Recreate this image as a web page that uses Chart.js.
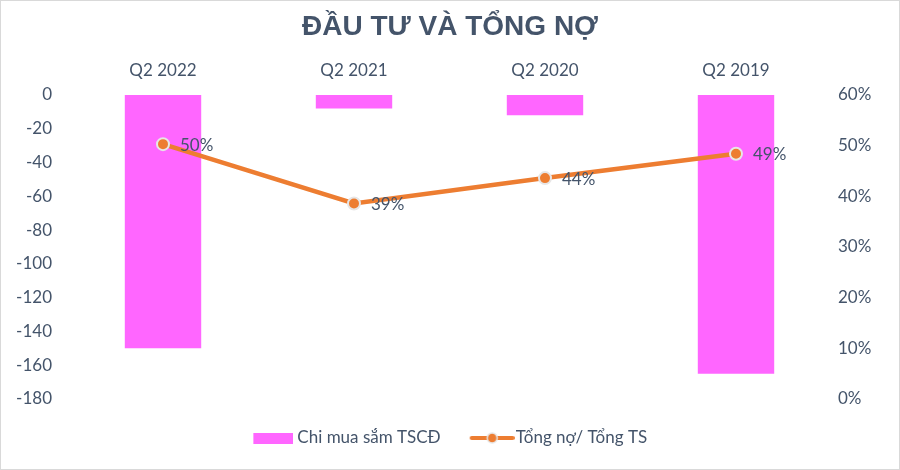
<!DOCTYPE html>
<html>
<head>
<meta charset="utf-8">
<script src="https://cdn.jsdelivr.net/npm/chart.js@4"></script>
<style>
  html, body { margin: 0; padding: 0; background: #fff; }
  #wrap { width: 900px; height: 470px; position: relative; }
</style>
</head>
<body>
<div id="wrap"><canvas id="c" width="900" height="470"></canvas></div>
<script>
const categories = ['Q2 2022', 'Q2 2021', 'Q2 2020', 'Q2 2019'];
const capexValues = [-150, -8, -12, -165];
const debtRatioValues = [50.3, 38.6, 43.6, 48.4];
const debtRatioLabels = ['50%', '39%', '44%', '49%'];
const leftTicks = [0, -20, -40, -60, -80, -100, -120, -140, -160, -180];
const rightTicks = [0, 10, 20, 30, 40, 50, 60];
const seriesNames = ['Chi mua sắm TSCĐ', 'Tổng nợ/ Tổng TS'];
const titleText = 'ĐẦU TƯ VÀ TỔNG NỢ';

const TEXT = '#44546A';
const BAR = '#FF66FF';
const LINE = '#ED7D31';
const FONT = 'Lato, "Open Sans", sans-serif';

function makeBarIcon() {
  const c = document.createElement('canvas');
  c.width = 45; c.height = 11;
  const x = c.getContext('2d');
  x.fillStyle = BAR; x.fillRect(5, 0, 40, 11);
  return c;
}
function makeLineIcon() {
  const c = document.createElement('canvas');
  c.width = 51; c.height = 14;
  const x = c.getContext('2d');
  x.strokeStyle = LINE; x.lineWidth = 4; x.lineCap = 'round';
  x.beginPath(); x.moveTo(8, 7); x.lineTo(49, 7); x.stroke();
  x.beginPath(); x.arc(28.5, 7, 5, 0, Math.PI * 2);
  x.fillStyle = LINE; x.fill();
  x.lineWidth = 1.5; x.strokeStyle = '#E7E6E6'; x.stroke();
  return c;
}
const barIcon = makeBarIcon();
const lineIcon = makeLineIcon();

const borderPlugin = {
  id: 'frame',
  beforeDraw(chart) {
    const ctx = chart.ctx;
    ctx.save();
    ctx.fillStyle = '#fff';
    ctx.fillRect(0, 0, chart.width, chart.height);
    ctx.strokeStyle = '#D9D9D9';
    ctx.lineWidth = 1;
    ctx.strokeRect(0.5, 0.5, chart.width - 1, chart.height - 1);
    ctx.restore();
  }
};

const labelPlugin = {
  id: 'pointLabels',
  afterDatasetsDraw(chart) {
    const meta = chart.getDatasetMeta(0);
    const ctx = chart.ctx;
    ctx.save();
    ctx.font = '17px ' + FONT;
    ctx.fillStyle = TEXT;
    ctx.textAlign = 'left';
    ctx.textBaseline = 'middle';
    meta.data.forEach((pt, i) => {
      ctx.fillText(debtRatioLabels[i], pt.x + 17, pt.y + 1);
    });
    ctx.restore();
  }
};

new Chart(document.getElementById('c'), {
  type: 'bar',
  data: {
    labels: categories,
    datasets: [
      {
        type: 'line',
        label: seriesNames[1],
        data: debtRatioValues,
        yAxisID: 'y1',
        borderColor: LINE,
        borderWidth: 4.5,
        pointRadius: 6,
        pointHoverRadius: 6,
        pointBackgroundColor: LINE,
        pointBorderColor: '#E7E6E6',
        pointBorderWidth: 2,
        tension: 0,
        fill: false
      },
      {
        type: 'bar',
        label: seriesNames[0],
        data: capexValues,
        yAxisID: 'y',
        backgroundColor: BAR,
        borderWidth: 0,
        categoryPercentage: 1,
        barPercentage: 0.4
      }
    ]
  },
  options: {
    responsive: false,
    animation: false,
    devicePixelRatio: 1,
    layout: { padding: { left: 0, right: 0, top: 0, bottom: 13.5 } },
    plugins: {
      tooltip: { enabled: false },
      title: {
        display: true,
        text: titleText,
        color: TEXT,
        font: { family: '"Liberation Sans", Arial, sans-serif', size: 28, weight: 'bold', lineHeight: 1.2 },
        padding: { top: 10, bottom: 0 }
      },
      legend: {
        display: true,
        position: 'bottom',
        labels: {
          usePointStyle: true,
          pointStyleWidth: 36,
          padding: 30.5,
          color: TEXT,
          font: { family: FONT, size: 17 },
          generateLabels() {
            return [
              { text: seriesNames[0], pointStyle: barIcon, fontColor: TEXT, datasetIndex: 1, hidden: false, lineWidth: 0, strokeStyle: 'transparent', fillStyle: 'transparent' },
              { text: seriesNames[1], pointStyle: lineIcon, fontColor: TEXT, datasetIndex: 0, hidden: false, lineWidth: 0, strokeStyle: 'transparent', fillStyle: 'transparent' }
            ];
          }
        }
      }
    },
    scales: {
      x: {
        position: 'top',
        offset: true,
        grid: { display: false, drawTicks: false },
        border: { display: false },
        ticks: { color: TEXT, font: { family: FONT, size: 17 }, padding: 13.8, maxRotation: 0 },
        afterFit(s) { s.height = 51.4; }
      },
      y: {
        position: 'left',
        min: leftTicks[leftTicks.length - 1],
        max: leftTicks[0],
        grid: { display: false, drawTicks: false },
        border: { display: false },
        afterBuildTicks(s) { s.ticks = leftTicks.map(v => ({ value: v })); },
        ticks: { color: TEXT, font: { family: FONT, size: 17 }, padding: 15.5, callback: v => String(v) },
        afterFit(s) { s.width = 67.5; }
      },
      y1: {
        position: 'right',
        min: rightTicks[0],
        max: rightTicks[rightTicks.length - 1],
        grid: { display: false, drawTicks: false },
        border: { display: false },
        afterBuildTicks(s) { s.ticks = rightTicks.map(v => ({ value: v })); },
        ticks: { color: TEXT, font: { family: FONT, size: 17 }, padding: 6.5, callback: v => v + '%' },
        afterFit(s) { s.width = 68.5; }
      }
    }
  },
  plugins: [borderPlugin, labelPlugin]
});
</script>
</body>
</html>
